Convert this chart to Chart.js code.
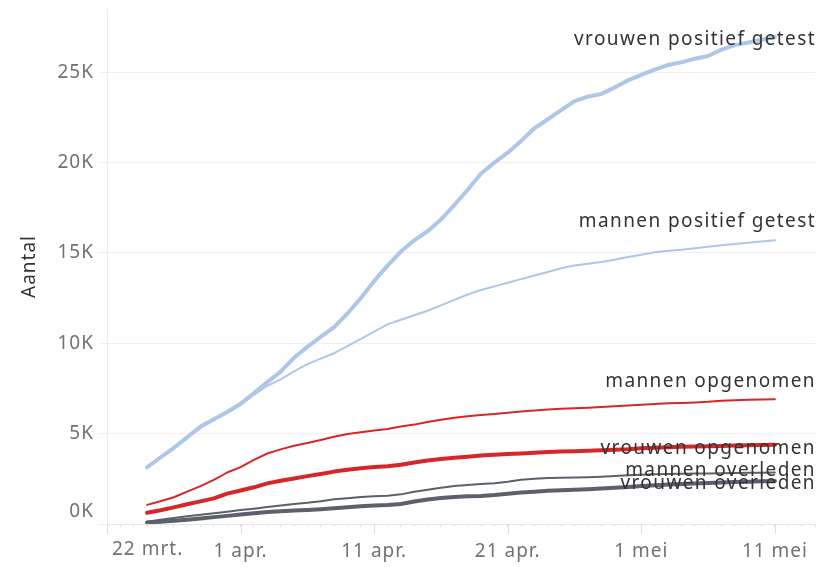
<!DOCTYPE html>
<html>
<head>
<meta charset="utf-8">
<script src="https://cdn.jsdelivr.net/npm/chart.js@4/dist/chart.umd.min.js"></script>
<style>
  body { margin: 0; background: #fff; }
</style>
</head>
<body>
<canvas id="chart" width="819" height="567"></canvas>
<script>
// days counted from 22 March
const days = [3, 4, 5, 6, 7, 8, 9, 10, 11, 12, 13, 14, 15, 16, 17, 18, 19, 20, 21, 22, 23, 24, 25, 26,
  27, 28, 29, 30, 31, 32, 33, 34, 35, 36, 37, 38, 39, 40, 41, 42, 43, 44, 45, 46, 47, 48, 49, 50]
const xTickDays = [0, 10, 20, 30, 40, 50]
const xTickLabels = ['22 mrt.', '1 apr.', '11 apr.', '21 apr.', '1 mei', '11 mei']
const yTicks = [0, 5000, 10000, 15000, 20000, 25000]

const vrouwenPositief = [3140, 3680, 4210, 4800, 5390, 5800, 6200, 6650, 7250, 7850, 8430, 9200,
  9800, 10350, 10900, 11650, 12500, 13450, 14300, 15080, 15700, 16200, 16850, 17650,
  18500, 19400, 20000, 20550, 21200, 21900, 22400, 22900, 23400, 23650, 23800, 24150,
  24550, 24850, 25150, 25400, 25550, 25750, 25900, 26250, 26500, 26650, 26800, 26950]
const mannenPositief = [3100, 3650, 4180, 4750, 5330, 5750, 6150, 6600, 7150, 7650, 8000, 8450,
  8850, 9150, 9450, 9850, 10250, 10650, 11050, 11300, 11550, 11800, 12100, 12400,
  12700, 12950, 13150, 13350, 13550, 13750, 13950, 14150, 14300, 14400, 14500, 14620,
  14780, 14900, 15040, 15120, 15180, 15260, 15340, 15420, 15500, 15570, 15630, 15700]
const mannenOpgenomen = [1060, 1260, 1480, 1790, 2100, 2440, 2850, 3150, 3550, 3900, 4130, 4330,
  4480, 4650, 4830, 4980, 5080, 5170, 5260, 5390, 5500, 5640, 5770, 5880,
  5960, 6030, 6090, 6160, 6220, 6280, 6340, 6380, 6410, 6440, 6480, 6520,
  6560, 6600, 6640, 6680, 6700, 6730, 6760, 6820, 6850, 6870, 6890, 6910]
const vrouwenOpgenomen = [620, 760, 920, 1090, 1250, 1420, 1680, 1850, 2030, 2250, 2390, 2520,
  2650, 2770, 2900, 3000, 3090, 3150, 3190, 3280, 3400, 3510, 3600, 3660,
  3720, 3790, 3830, 3870, 3900, 3940, 3980, 4010, 4030, 4050, 4080, 4110,
  4140, 4190, 4220, 4250, 4270, 4290, 4300, 4320, 4340, 4360, 4375, 4390]
const mannenOverleden = [130, 230, 330, 430, 510, 600, 680, 770, 850, 940, 1030, 1110,
  1170, 1260, 1370, 1430, 1490, 1530, 1560, 1640, 1780, 1900, 2000, 2100,
  2160, 2220, 2260, 2340, 2450, 2500, 2540, 2560, 2570, 2590, 2620, 2660,
  2700, 2730, 2750, 2770, 2780, 2790, 2800, 2810, 2820, 2830, 2840, 2850]
const vrouwenOverleden = [90, 130, 180, 240, 310, 380, 450, 530, 600, 670, 710, 750,
  780, 820, 870, 930, 980, 1020, 1050, 1110, 1250, 1360, 1440, 1500,
  1530, 1550, 1600, 1680, 1740, 1790, 1840, 1870, 1890, 1920, 1960, 2000,
  2050, 2100, 2140, 2180, 2210, 2240, 2270, 2300, 2320, 2340, 2360, 2380]

const FONT = '"Noto Sans", sans-serif'
const BLUE = '#aec7e8'
const RED = '#d62728'
const GRAY = '#5b606b'
const TICK_COLOR = '#727272'
const TICK_SIZE = 19

const series = [
  { label: 'vrouwen positief getest', values: vrouwenPositief, color: BLUE, width: 4, labelDy: 3 },
  { label: 'mannen positief getest', values: mannenPositief, color: BLUE, width: 2, labelDy: -19 },
  { label: 'mannen opgenomen', values: mannenOpgenomen, color: RED, width: 2, labelDy: -18 },
  { label: 'vrouwen opgenomen', values: vrouwenOpgenomen, color: RED, width: 4, labelDy: 4 },
  { label: 'mannen overleden', values: mannenOverleden, color: GRAY, width: 2, labelDy: -2 },
  { label: 'vrouwen overleden', values: vrouwenOverleden, color: GRAY, width: 4, labelDy: 3 }
]

// the original font is wider than anything installed, so space the letters a bit
const wideText = {
  id: 'wideText',
  beforeDraw (chart) { chart.ctx.letterSpacing = '1px' }
}

// line-end labels, first date label and 0K are nudged inward like the original
const endLabels = {
  id: 'endLabels',
  afterDatasetsDraw (chart) {
    const ctx = chart.ctx
    ctx.save()
    ctx.letterSpacing = '1.4px'
    ctx.font = '19px ' + FONT
    ctx.fillStyle = '#333'
    ctx.textAlign = 'right'
    ctx.textBaseline = 'middle'
    chart.data.datasets.forEach((ds, i) => {
      const pts = chart.getDatasetMeta(i).data
      const last = pts[pts.length - 1]
      ctx.fillText(ds.label, chart.chartArea.right + 1, last.y + ds.labelDy)
    })
    ctx.restore()
  },
  afterDraw (chart) {
    const ctx = chart.ctx
    const x = chart.scales.x
    const y = chart.scales.y
    ctx.save()
    ctx.strokeStyle = '#dedede'
    ctx.lineWidth = 1
    xTickDays.forEach(d => {
      const px = Math.round(x.getPixelForValue(d)) + 0.5
      ctx.beginPath()
      ctx.moveTo(px, x.top)
      ctx.lineTo(px, x.top + 10)
      ctx.stroke()
    })
    ctx.letterSpacing = '1px'
    ctx.font = TICK_SIZE + 'px ' + FONT
    ctx.fillStyle = TICK_COLOR
    ctx.textBaseline = 'middle'
    ctx.textAlign = 'left'
    ctx.fillText(xTickLabels[0], x.left + 5, x.top + 26)
    ctx.textAlign = 'right'
    ctx.fillText('0K', y.right - 13, y.getPixelForValue(0) - 12)
    ctx.restore()
  }
}

new Chart(document.getElementById('chart'), {
  type: 'line',
  data: {
    datasets: series.map(s => ({
      label: s.label,
      labelDy: s.labelDy,
      data: days.map((d, i) => ({ x: d, y: s.values[i] })),
      borderColor: s.color,
      borderWidth: s.width,
      fill: false
    }))
  },
  options: {
    responsive: false,
    animation: false,
    devicePixelRatio: 1,
    layout: { padding: { top: 9, right: 4, left: 0, bottom: 0 } },
    plugins: { legend: { display: false }, tooltip: { enabled: false } },
    elements: {
      point: { radius: 0 },
      line: { tension: 0, borderJoinStyle: 'round', borderCapStyle: 'round' }
    },
    scales: {
      x: {
        type: 'linear',
        min: 0,
        max: 53,
        afterFit: s => {
          s.height = 43
          s.paddingLeft = 0
          s.paddingRight = 0
        },
        grid: { drawOnChartArea: false, tickLength: 3, color: '#e2e2e2' },
        border: { color: '#e6e6e6' },
        ticks: {
          stepSize: 1,
          autoSkip: false,
          maxRotation: 0,
          padding: 13,
          color: TICK_COLOR,
          font: { family: FONT, size: TICK_SIZE },
          callback: v => {
            const i = xTickDays.indexOf(v)
            return i > 0 ? xTickLabels[i] : ''
          }
        }
      },
      y: {
        min: 0,
        max: 28500,
        afterBuildTicks: s => { s.ticks = yTicks.map(v => ({ value: v })) },
        afterFit: s => {
          s.width = 107
          s.paddingTop = 0
          s.paddingBottom = 0
        },
        grid: { color: '#f0f0f0', tickLength: 8 },
        border: { color: '#ececec' },
        ticks: {
          padding: 5,
          color: TICK_COLOR,
          font: { family: FONT, size: TICK_SIZE },
          callback: v => v === 0 ? '' : (v / 1000) + 'K'
        },
        title: {
          display: true,
          text: 'Aantal',
          color: '#333',
          font: { family: FONT, size: 19 },
          padding: { top: 18, bottom: 0 }
        }
      }
    }
  },
  plugins: [wideText, endLabels]
})
</script>
</body>
</html>
